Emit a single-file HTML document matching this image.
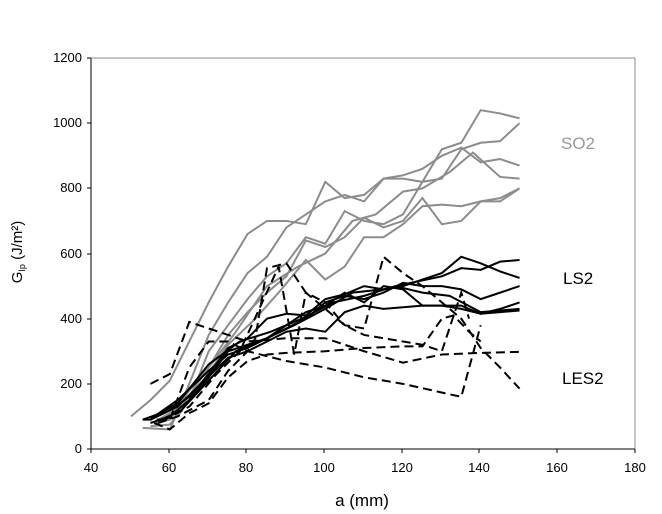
<!DOCTYPE html><html><head><style>body{margin:0;background:#fff}svg{display:block}text{font-family:"Liberation Sans",sans-serif}</style></head><body>
<svg width="662" height="514" viewBox="0 0 662 514">
<g font-size="13" fill="#000">
<line x1="91" y1="58" x2="91" y2="449" stroke="#000"/><line x1="91" y1="449" x2="635" y2="449" stroke="#000"/>
<line x1="91" y1="58" x2="635" y2="58" stroke="#888"/><line x1="635" y1="58" x2="635" y2="449" stroke="#888"/>
<g stroke="#000"><line x1="87" y1="449" x2="91" y2="449"/><line x1="87" y1="384" x2="91" y2="384"/><line x1="87" y1="319" x2="91" y2="319"/><line x1="87" y1="254" x2="91" y2="254"/><line x1="87" y1="188" x2="91" y2="188"/><line x1="87" y1="123" x2="91" y2="123"/><line x1="87" y1="58" x2="91" y2="58"/>
<line x1="91" y1="449" x2="91" y2="453"/><line x1="169" y1="449" x2="169" y2="453"/><line x1="246" y1="449" x2="246" y2="453"/><line x1="324" y1="449" x2="324" y2="453"/><line x1="402" y1="449" x2="402" y2="453"/><line x1="479" y1="449" x2="479" y2="453"/><line x1="557" y1="449" x2="557" y2="453"/><line x1="635" y1="449" x2="635" y2="453"/></g>
<g text-anchor="end"><text x="82" y="453">0</text><text x="82" y="388">200</text><text x="82" y="323">400</text><text x="82" y="258">600</text><text x="82" y="192">800</text><text x="82" y="127">1000</text><text x="82" y="62">1200</text></g>
<g text-anchor="middle"><text x="91" y="472">40</text><text x="169" y="472">60</text><text x="246" y="472">80</text><text x="324" y="472">100</text><text x="402" y="472">120</text><text x="479" y="472">140</text><text x="557" y="472">160</text><text x="635" y="472">180</text></g>
<text x="362" y="506" font-size="17" text-anchor="middle">a (mm)</text>
<text transform="translate(22,252) rotate(-90)" font-size="15" text-anchor="middle">G<tspan font-size="9" dy="3">Ip</tspan><tspan dy="-3"> (J/m²)</tspan></text>
<text x="561" y="149" font-size="17" fill="#999">SO2</text>
<text x="563" y="284" font-size="17">LS2</text>
<text x="562" y="384" font-size="17">LES2</text>
</g>
<g transform="translate(-63.3,449) scale(3.8857,-0.3258)" fill="none">
<g stroke="#8c8c8c" stroke-width="2">
<polyline vector-effect="non-scaling-stroke" points="50,100 55,150 60,210 65,330 70,450 75,560 80,660 85,700 90,700 95,690 100,820 105,770 110,780 115,830 120,830 125,820 130,920 135,940 140,1040 145,1030 150,1015"/>
<polyline vector-effect="non-scaling-stroke" points="53,65 60,60 65,200 70,350 75,450 80,540 85,590 90,680 95,720 100,760 105,780 110,760 115,830 120,840 125,860 130,900 135,925 140,880 145,890 150,870"/>
<polyline vector-effect="non-scaling-stroke" points="55,70 60,75 65,150 70,300 75,380 80,460 85,530 90,570 95,650 100,630 105,730 110,700 115,690 120,720 125,820 130,830 135,920 140,940 145,945 150,1000"/>
<polyline vector-effect="non-scaling-stroke" points="55,80 60,90 65,180 70,250 75,350 80,420 85,480 90,530 95,640 100,620 105,650 110,710 115,680 120,700 125,770 130,690 135,700 140,760 145,760 150,800"/>
<polyline vector-effect="non-scaling-stroke" points="56,75 62,100 68,200 75,320 82,400 88,480 95,580 100,520 105,560 110,650 115,650 120,690 125,745 130,750 135,745 140,760 145,770 150,800"/>
<polyline vector-effect="non-scaling-stroke" points="57,90 63,130 70,250 77,360 85,500 93,560 100,600 107,700 113,720 120,790 125,800 132,850 138,910 145,835 150,830"/>
</g>
<g stroke="#000" stroke-width="2">
<polyline vector-effect="non-scaling-stroke" points="53,90 60,120 65,160 70,230 75,310 80,340 85,400 90,415 95,410 100,460 105,475 110,500 115,490 120,500 125,520 130,540 135,590 140,570 145,545 150,525"/>
<polyline vector-effect="non-scaling-stroke" points="55,80 60,100 65,150 70,220 75,300 80,320 85,340 90,370 95,400 100,450 105,470 110,460 115,480 120,510 125,500 130,500 135,490 140,460 145,480 150,500"/>
<polyline vector-effect="non-scaling-stroke" points="55,90 62,130 68,200 75,280 80,300 85,330 90,360 95,370 100,360 105,420 110,440 115,430 120,435 125,440 130,440 135,430 140,415 145,420 150,425"/>
<polyline vector-effect="non-scaling-stroke" points="56,100 62,150 70,240 75,290 80,310 85,340 90,380 95,420 100,440 105,480 110,450 115,500 120,490 125,440 130,440 135,440 140,415 145,430 150,450"/>
<polyline vector-effect="non-scaling-stroke" points="57,85 63,120 70,210 77,300 85,340 92,380 100,430 107,480 115,490 122,510 130,530 135,555 140,550 145,575 150,580"/>
<polyline vector-effect="non-scaling-stroke" points="55,95 62,140 70,260 78,330 86,360 94,400 102,450 110,470 118,500 125,480 132,470 140,420 150,430"/>
</g>
<g stroke="#000" stroke-width="2" stroke-dasharray="9,5">
<polyline vector-effect="non-scaling-stroke" points="55,200 60,230 65,390 75,350 80,330 90,340 100,340 110,300 120,265 130,290 140,295 150,298"/>
<polyline vector-effect="non-scaling-stroke" points="53,90 60,90 65,250 70,330 75,330 80,300 90,270 100,250 110,220 120,200 135,160 140,380"/>
<polyline vector-effect="non-scaling-stroke" points="56,80 60,60 65,110 70,140 75,220 80,270 85,290 90,295 100,300 110,310 120,315 125,315 130,400 133,410 137,360 140,330"/>
<polyline vector-effect="non-scaling-stroke" points="57,80 62,100 70,150 75,240 80,300 82,340 85,555 90,570 95,480 100,450 105,380 110,370 115,590 120,540 125,500 130,450 135,400 140,310 145,250 150,185"/>
<polyline vector-effect="non-scaling-stroke" points="58,85 65,130 72,230 78,300 88,560 92,290 95,480 100,430 105,380 110,350 120,330 125,320 130,300 135,480 137,400"/>
</g>
</g>
</svg></body></html>
